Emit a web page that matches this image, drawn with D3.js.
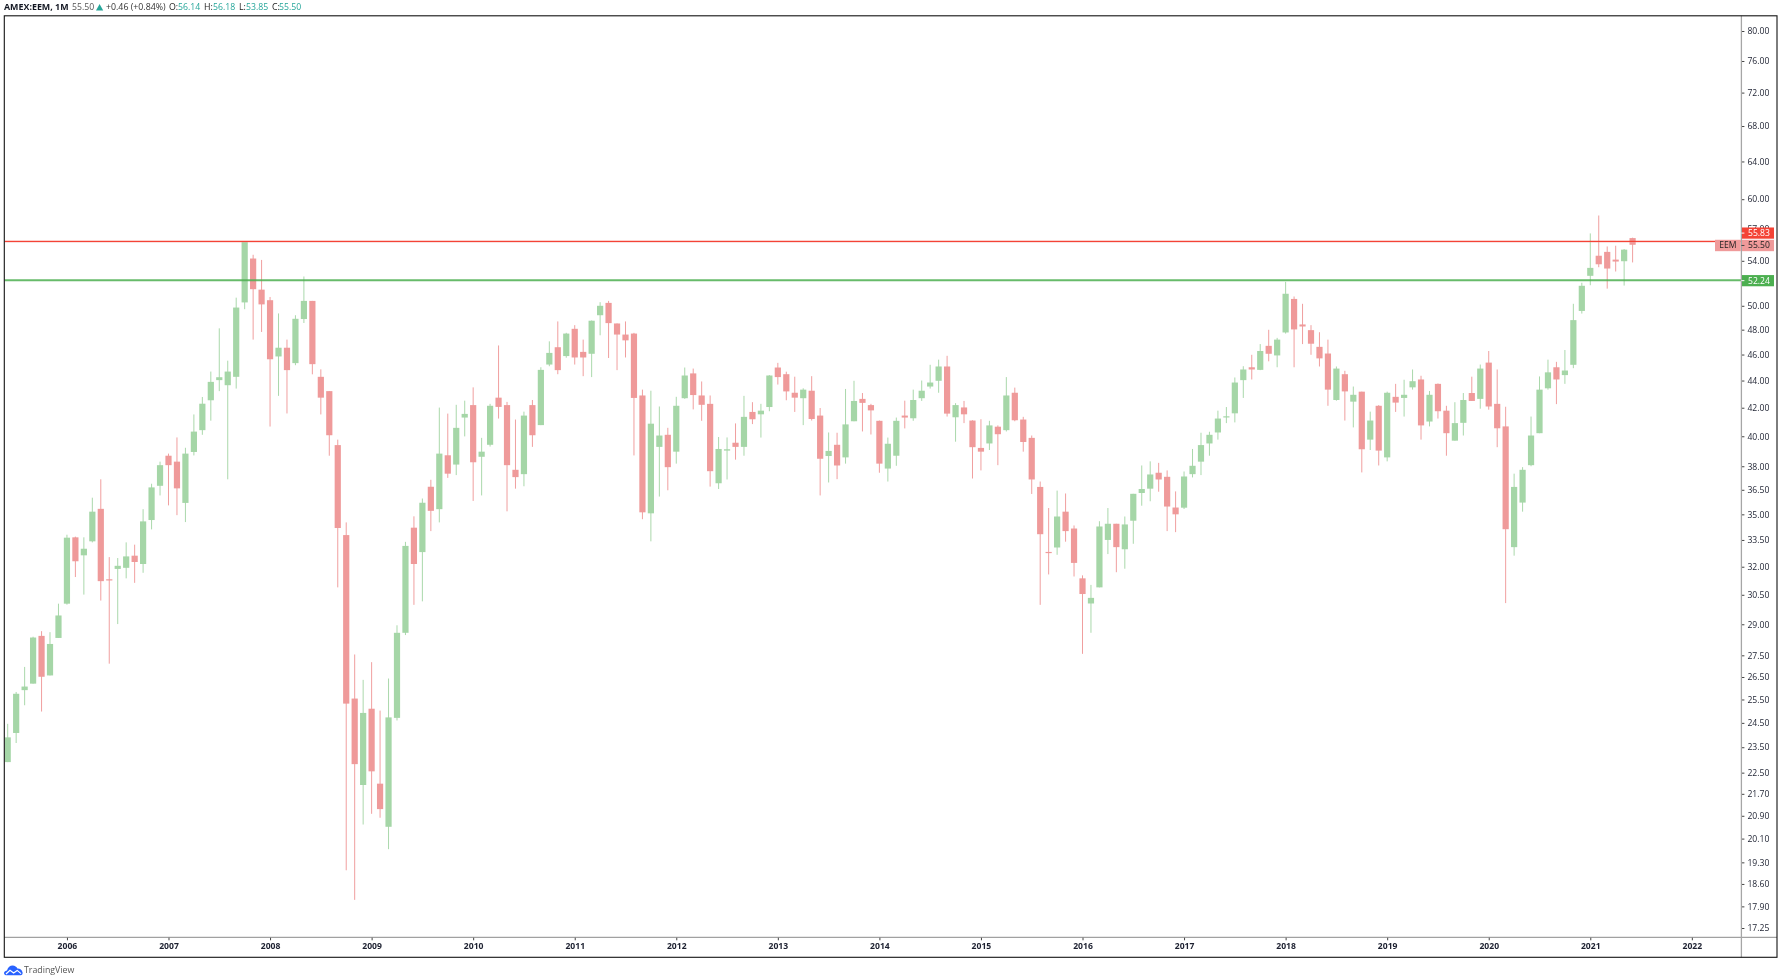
<!DOCTYPE html>
<html><head><meta charset="utf-8">
<script src="https://cdn.jsdelivr.net/npm/d3@7/dist/d3.min.js"></script>
<style>
html,body{margin:0;padding:0;background:#fff;overflow:hidden}
svg{display:block;font-family:"Open Sans",sans-serif;filter:blur(0.3px)}
</style></head><body><svg id="c" width="1779" height="978"></svg>
<script>
// Monthly candles, Jun 2005 .. Jun 2021
const open=[22.91,24.08,25.91,26.20,28.43,26.57,28.33,30.04,33.65,32.63,
33.42,35.33,31.32,31.88,31.94,32.61,32.15,34.66,36.75,38.69,
38.30,35.69,38.94,40.42,42.54,44.03,43.65,44.28,50.29,54.21,
51.40,50.48,45.85,46.54,45.33,48.88,50.42,44.28,43.21,39.40,
33.78,25.54,22.03,25.10,22.08,20.51,24.71,28.58,34.21,32.81,
36.69,35.31,38.72,38.11,41.30,42.19,38.62,39.42,42.73,42.19,
37.77,37.49,42.19,40.77,45.22,46.58,45.88,48.07,46.21,46.06,
49.20,50.25,48.51,47.60,47.68,42.89,35.06,39.28,40.10,38.96,
42.69,44.54,42.89,42.28,36.91,39.03,39.56,39.28,41.70,41.53,
42.05,44.99,44.48,43.09,42.69,43.24,41.44,38.67,39.42,38.58,
41.04,42.64,42.19,41.07,37.85,38.69,41.44,41.25,42.69,43.55,
43.98,45.07,41.32,42.02,41.09,39.21,39.51,40.66,40.42,43.09,
41.16,39.89,36.68,32.82,33.07,35.16,34.16,31.37,30.05,30.89,
33.50,34.44,32.97,34.62,36.30,36.57,37.58,37.32,35.41,35.40,
37.49,38.30,39.51,40.26,41.32,41.60,44.03,45.01,44.81,46.69,
45.93,47.77,50.59,48.43,47.96,46.61,46.08,42.56,44.48,42.44,
43.17,39.77,42.14,38.58,42.79,42.71,43.49,44.08,41.02,43.75,
41.79,39.70,40.93,43.07,42.64,45.37,42.28,40.68,33.09,35.71,
38.07,40.21,43.42,45.01,44.41,45.20,49.56,52.63,54.47,54.83,
54.11,53.96,56.14];
const high=[24.46,25.83,26.96,28.39,28.66,28.61,30.04,33.80,33.69,33.65,
36.01,37.16,32.53,32.48,33.36,33.23,35.31,36.88,38.30,38.83,
39.92,39.22,41.52,42.78,44.68,48.11,45.52,50.70,55.83,54.56,
54.08,50.76,49.35,47.19,49.20,52.57,50.42,44.85,43.21,39.77,
34.52,27.54,26.37,27.18,25.02,26.43,28.95,33.39,34.88,35.96,
37.13,42.01,41.58,42.21,42.51,43.49,39.89,42.28,46.72,42.42,
41.16,41.72,42.56,45.01,47.05,48.68,47.74,48.37,47.19,48.76,
50.31,50.42,48.51,48.68,47.74,43.32,43.24,42.09,40.58,42.79,
44.99,44.91,43.93,42.89,39.95,39.92,40.89,42.86,42.40,42.28,
44.41,45.35,44.67,44.29,43.42,44.33,41.98,40.26,40.24,43.37,
43.98,43.07,42.28,41.09,39.91,41.30,42.51,43.32,44.00,45.20,
45.60,45.90,42.33,42.49,41.11,41.18,41.07,40.75,44.26,43.47,
41.35,40.05,37.02,35.38,36.45,36.27,34.34,31.53,31.02,34.59,
35.38,34.44,34.87,36.25,38.05,38.32,38.22,37.73,36.40,37.66,
39.14,40.24,40.31,41.79,42.05,44.23,45.09,45.98,46.83,47.99,
47.33,52.09,50.80,50.17,48.37,47.79,47.19,45.07,44.74,43.55,
43.17,41.72,42.19,43.17,43.75,44.06,44.84,44.36,43.22,43.78,
42.14,42.40,43.07,44.29,45.22,46.28,44.84,42.07,37.52,37.94,
41.37,44.31,45.60,45.43,46.36,50.17,52.01,56.59,58.35,55.34,
55.41,55.10,56.18];
const low=[22.91,23.67,25.25,26.20,24.98,26.57,28.33,29.99,31.44,30.51,
33.36,30.20,27.11,29.01,31.37,31.13,31.67,34.11,36.15,35.54,
34.95,34.54,38.71,40.10,41.08,43.21,37.16,43.40,49.71,47.19,
47.81,40.67,42.86,41.59,45.17,48.55,44.47,41.52,38.69,30.89,
19.04,18.10,20.59,20.97,20.83,19.74,24.60,28.47,29.98,30.16,
34.01,34.52,37.25,37.43,39.99,35.81,36.15,39.30,41.23,35.18,
36.57,36.72,39.28,40.77,45.09,44.48,45.75,45.22,44.33,44.26,
47.54,45.73,44.79,45.77,38.71,34.71,33.42,36.08,36.47,38.17,
42.64,41.88,41.07,36.70,36.55,37.15,38.43,38.69,40.84,39.91,
41.75,43.70,42.54,41.70,40.77,41.09,36.15,36.96,37.17,38.17,
41.04,40.33,40.12,37.58,37.02,38.03,40.54,41.07,42.49,43.40,
43.09,41.37,39.63,40.91,37.21,37.73,39.07,38.07,40.33,41.04,
38.96,36.24,29.98,31.58,32.66,33.40,31.47,27.57,28.58,30.89,
32.70,31.70,31.89,33.28,35.52,35.79,36.38,34.01,33.95,35.32,
37.28,37.43,38.69,39.77,40.91,40.96,42.71,44.08,44.79,45.47,
45.01,47.68,45.01,46.83,45.98,45.07,42.14,42.51,41.09,40.61,
37.60,39.07,38.05,38.32,41.70,41.37,43.32,39.77,40.68,41.23,
38.69,39.70,40.05,42.49,41.93,41.86,39.26,30.07,32.61,35.16,
38.00,40.21,43.32,42.26,43.75,44.94,49.34,51.79,53.41,51.49,
53.02,51.76,53.85];
const close=[23.90,25.75,26.07,28.35,26.51,28.04,29.44,33.63,32.30,33.00,
35.16,31.22,31.28,32.05,32.57,32.26,34.58,36.65,38.07,38.07,
36.59,38.83,40.32,42.29,43.90,44.25,44.68,49.85,55.83,51.44,
50.12,45.63,46.54,44.79,48.90,50.42,45.25,42.73,40.07,34.19,
25.32,22.83,24.92,22.55,21.14,24.73,28.58,33.16,32.15,35.70,
35.21,38.83,37.52,40.58,41.56,38.26,38.96,42.14,42.06,38.07,
37.30,41.44,40.07,44.81,46.13,44.79,47.68,45.77,45.77,48.74,
50.00,48.54,47.60,47.13,42.71,35.12,40.87,40.05,37.94,42.14,
44.38,42.92,42.21,37.68,39.14,39.12,39.28,41.35,41.18,41.79,
44.38,44.26,43.19,42.73,43.32,41.20,38.49,39.01,38.05,40.82,
42.49,42.35,41.81,38.17,39.49,41.07,41.30,42.56,43.24,43.85,
45.07,41.58,42.19,41.53,39.26,38.96,40.75,40.14,42.89,41.11,
39.61,37.15,33.83,32.78,34.87,34.01,32.21,30.54,30.34,34.28,
34.44,33.09,34.40,36.25,36.55,37.47,37.15,35.47,35.00,37.34,
38.03,39.40,40.10,41.23,41.39,43.85,44.84,44.84,46.28,46.06,
47.19,51.04,48.02,48.26,46.86,45.70,43.32,44.91,43.19,42.94,
39.12,41.09,39.03,43.09,42.37,42.94,43.95,40.75,42.94,41.75,
40.21,40.91,42.56,42.49,44.91,42.09,40.55,34.12,36.68,37.77,
40.05,43.32,44.62,44.08,44.76,48.79,51.74,53.35,53.68,53.29,
53.93,55.04,55.50];
const firstYear=2005, firstMonth=5; // Jun 2005 (zero-based month)
const yearTicks=[2006,2007,2008,2009,2010,2011,2012,2013,2014,2015,2016,2017,2018,2019,2020,2021,2022];
const priceTicks=[80,76,72,68,64,60,57,54,50,48,46,44,42,40,38,36.5,35,33.5,32,30.5,29,27.5,26.5,25.5,24.5,23.5,22.5,21.7,20.9,20.1,19.3,18.6,17.9,17.25];
const resistance=55.83, support=52.24, lastPrice=55.50;
const symbol="EEM";

const frame={l:4.3,t:15.8,r:1777,b:957.3}, axisX=1741.4, axisY=937.3;
const svg=d3.select("#c");
const x=d3.scaleLinear().domain([0,192]).range([7.7,1632.6]);
const y=d3.scaleLog().domain([17.25,80]).range([928,31]);
const monthIndex=(yr)=>(yr-firstYear)*12-firstMonth;
const GREEN="#a5d6a7",RED="#ef9a9a";

svg.append("defs").append("clipPath").attr("id","plot").append("rect")
  .attr("x",frame.l).attr("y",frame.t).attr("width",axisX-frame.l).attr("height",axisY-frame.t);

// candles
const idx=d3.range(open.length);
const g=svg.append("g").attr("clip-path","url(#plot)");
const col=i=>close[i]>=open[i]?GREEN:RED;
g.selectAll("line.w").data(idx).join("line").attr("class","w")
  .attr("x1",i=>x(i)).attr("x2",i=>x(i))
  .attr("y1",i=>y(high[i])).attr("y2",i=>y(low[i]))
  .attr("stroke",col).attr("stroke-width",0.95);
g.selectAll("rect.b").data(idx).join("rect").attr("class","b")
  .attr("x",i=>x(i)-3.1).attr("width",6.2)
  .attr("y",i=>y(Math.max(open[i],close[i])))
  .attr("height",i=>Math.max(1.2,Math.abs(y(open[i])-y(close[i]))))
  .attr("fill",col);

// horizontal levels
g.append("line").attr("x1",frame.l).attr("x2",axisX).attr("y1",y(resistance)+1.2).attr("y2",y(resistance)+1.2).attr("stroke",RED).attr("stroke-opacity",.3).attr("stroke-width",1);
g.append("line").attr("x1",frame.l).attr("x2",axisX).attr("y1",y(resistance)).attr("y2",y(resistance)).attr("stroke","#f44336").attr("stroke-width",1.2);
g.append("line").attr("x1",frame.l).attr("x2",axisX).attr("y1",y(support)).attr("y2",y(support)).attr("stroke","#4caf50").attr("stroke-opacity",.85).attr("stroke-width",2);

// axes
const fs=8.6;
const ya=svg.append("g").attr("transform",`translate(${axisX},0)`)
  .call(d3.axisRight(y).tickValues(priceTicks).tickFormat(d3.format(".2f")).tickSize(3).tickPadding(3));
ya.select(".domain").remove();
ya.selectAll("text").attr("font-size",fs).attr("fill","#1c2030").attr("font-family",'"Open Sans",sans-serif');
ya.selectAll("line").attr("stroke","#444");
const xa=svg.append("g").attr("transform",`translate(0,${axisY})`)
  .call(d3.axisBottom(x.copy())
    .tickValues(yearTicks.map(monthIndex)).tickFormat(i=>yearTicks[yearTicks.map(monthIndex).indexOf(i)]).tickSize(3).tickPadding(3));
xa.select(".domain").remove();
xa.selectAll("text").attr("font-size",fs).attr("font-weight",700).attr("fill","#1c2030").attr("font-family",'"Open Sans",sans-serif');
xa.selectAll("line").attr("stroke","#444");

// separators and frame
svg.append("line").attr("x1",frame.l).attr("x2",frame.r).attr("y1",axisY).attr("y2",axisY).attr("stroke","#8a8a8a").attr("stroke-width",1);
svg.append("line").attr("x1",axisX).attr("x2",axisX).attr("y1",frame.t).attr("y2",frame.b).attr("stroke","#a6a6a6").attr("stroke-width",1.3);
svg.append("rect").attr("x",frame.l).attr("y",frame.t).attr("width",frame.r-frame.l).attr("height",frame.b-frame.t).attr("fill","none").attr("stroke","#131313").attr("stroke-width",1.1);

// price labels
function tag(x0,w,cy,h,fill,txt,tc,tx){
  svg.append("rect").attr("x",x0).attr("y",cy-h/2).attr("width",w).attr("height",h).attr("fill",fill);
  svg.append("text").attr("x",tx).attr("y",cy).attr("dy","0.34em").attr("font-size",fs).attr("fill",tc).text(txt);
}
const tagX=axisX+.6,tagW=32;
tag(tagX,tagW,y(lastPrice)-11.7,11.2,"#f44336",d3.format(".2f")(resistance),"#fff",tagX+6);
tag(tagX,tagW,y(lastPrice)+.7,11.4,RED,d3.format(".2f")(lastPrice),"#222",tagX+6);
tag(1715,25.8,y(lastPrice)+.7,11.4,RED,symbol,"#222",1719.2);
tag(tagX,tagW,y(support)+.5,11.2,"#4caf50",d3.format(".2f")(support),"#fff",tagX+6);
[[y(lastPrice)-11.7],[y(lastPrice)+.7],[y(support)+.5]].forEach(([cy],k)=>{
  svg.append("line").attr("x1",axisX).attr("x2",axisX+3).attr("y1",cy).attr("y2",cy).attr("stroke",k==1?"#444":"#fff");
});

// header
const hdr=[["AMEX:EEM, 1M",4,"#131722",700,8.9],["55.50",72,"#555",400,8.7],["+0.46 (+0.84%)",106,"#333",400,8.8],
 ["O:",169,"#222",400,8.8],["56.14",178,"#26a69a",400,8.7],["H:",204,"#222",400,8.8],["56.18",213,"#26a69a",400,8.7],
 ["L:",239,"#222",400,8.8],["53.85",246,"#26a69a",400,8.7],["C:",272,"#222",400,8.8],["55.50",279,"#26a69a",400,8.7]];
svg.selectAll("text.h").data(hdr).join("text").attr("class","h")
  .attr("x",d=>d[1]).attr("y",10.4).attr("fill",d=>d[2]).attr("font-weight",d=>d[3]).attr("font-size",d=>d[4]).text(d=>d[0]);
svg.append("path").attr("d","M96 10.6 L99.6 4 L103.2 10.6 Z").attr("fill","#26a69a");

// TradingView logo
const lg=svg.append("g").attr("transform","translate(4,965)");
lg.append("path").attr("d","M0 8 C0 6 2 5.6 3 5.4 C4 2.2 6 .6 8.6 .6 C11 .6 12.6 2 13.4 3.6 C15.8 3.4 18 5 18.6 7.6 C18.8 9.2 18 10.2 16.6 10.2 L2 10.2 C.8 10.2 0 9.2 0 8 Z").attr("fill","#2962ff");
lg.append("path").attr("d","M2 9 L6 5.2 L9.6 8 L13.2 5.4 L17 8.6").attr("fill","none").attr("stroke","#fff").attr("stroke-width",1.2);
svg.append("text").attr("x",24).attr("y",973.2).attr("font-size",8.8).attr("fill","#555").text("TradingView");
</script></body></html>
